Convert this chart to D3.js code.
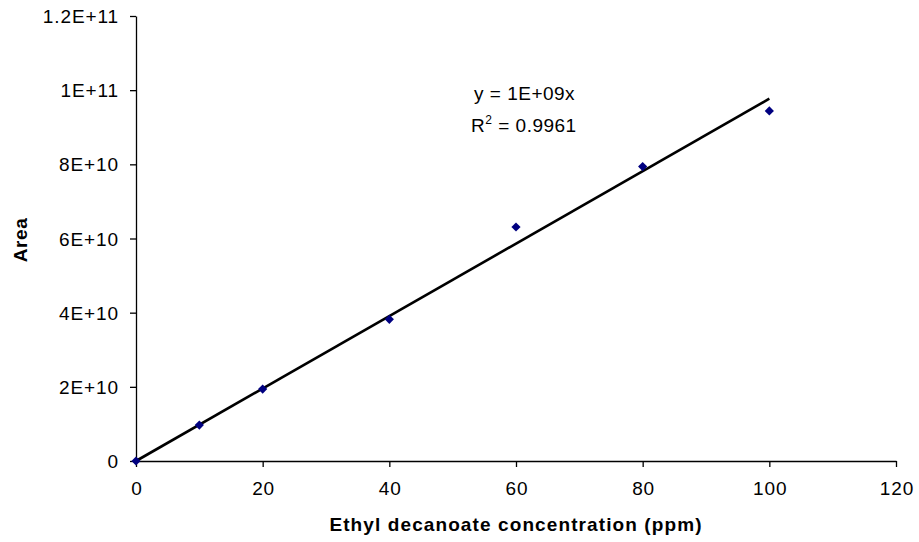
<!DOCTYPE html>
<html>
<head>
<meta charset="utf-8">
<script src="https://cdn.jsdelivr.net/npm/d3@7"></script>
<style>
  html, body { margin: 0; padding: 0; background: #fff; }
  svg { display: block; font-family: "Liberation Sans", Arial, sans-serif; }
</style>
</head>
<body>
<svg id="chart" width="919" height="542"></svg>
<script>
// ---- Data ----
const concentrations = [0, 10, 20, 40, 60, 80, 100];
const areas = [0, 9.7e9, 19.4e9, 38.2e9, 63.1e9, 79.4e9, 94.4e9];
const xTicks = [0, 20, 40, 60, 80, 100, 120];
const yTicks = [0, 2e10, 4e10, 6e10, 8e10, 1e11, 1.2e11];
const yTickLabels = ["0", "2E+10", "4E+10", "6E+10", "8E+10", "1E+11", "1.2E+11"];
const equationLines = ["y = 1E+09x", "R", "2", " = 0.9961"];
const xTitle = "Ethyl decanoate concentration (ppm)";
const yTitle = "Area";

(function () {
// ---- Layout ----
const svg = d3.select("#chart");
const pl = 136, pr = 896, pt = 16, pb = 461;
const x = d3.scaleLinear().domain([0, 120]).range([pl, pr]);
const y = d3.scaleLinear().domain([0, 1.2e11]).range([pb, pt]);

// Linear trend through origin (least squares)
const slope = d3.sum(concentrations, (c, i) => c * areas[i]) / d3.sum(concentrations, c => c * c);

// Axes
const xAxis = d3.axisBottom(x).tickValues(xTicks).tickSize(6).tickPadding(15).tickSizeOuter(0);
const yAxis = d3.axisLeft(y).tickValues(yTicks).tickSize(6).tickPadding(11).tickSizeOuter(0)
  .tickFormat((d, i) => yTickLabels[i]);

const gx = svg.append("g").attr("transform", `translate(0,${pb})`).call(xAxis);
const gy = svg.append("g").attr("transform", `translate(${pl},0)`).call(yAxis);
[gx, gy].forEach(g => {
  g.selectAll("path, line").attr("stroke", "#000").attr("stroke-width", 1.3);
  g.selectAll("text").attr("fill", "#000").style("font-size", "19px")
   .style("letter-spacing", "0.9px")
   .style("font-family", '"Liberation Sans", Arial, sans-serif');
});
gy.selectAll("text").attr("dy", "0.35em");
gx.selectAll("text").attr("dx", "0.45px");

// Trendline
svg.append("line")
  .attr("x1", x(0)).attr("y1", y(0))
  .attr("x2", x(100)).attr("y2", y(slope * 100))
  .attr("stroke", "#000").attr("stroke-width", 2.6);

// Markers
svg.append("g").selectAll("path")
  .data(concentrations)
  .join("path")
  .attr("transform", (c, i) => `translate(${x(c)},${y(areas[i])})`)
  .attr("d", "M0,-4.6L4.6,0L0,4.6L-4.6,0Z")
  .attr("fill", "#000080");

// Equation
const eq = svg.append("g").style("font-size", "19px").style("letter-spacing", "0.5px").attr("fill", "#000");
eq.append("text").attr("x", 474).attr("y", 100).text(equationLines[0]);
const t2 = eq.append("text").attr("x", 471).attr("y", 132);
t2.append("tspan").text(equationLines[1]);
t2.append("tspan").attr("dy", -8).style("font-size", "12px").text(equationLines[2]);
t2.append("tspan").attr("dy", 8).text(equationLines[3]);

// Axis titles
svg.append("text")
  .attr("x", (pl + pr) / 2).attr("y", 531)
  .attr("text-anchor", "middle")
  .style("font-size", "19px").style("font-weight", "bold")
  .style("letter-spacing", "1.1px")
  .text(xTitle);

svg.append("text")
  .attr("transform", `translate(27,240) rotate(-90)`)
  .attr("text-anchor", "middle")
  .style("font-size", "19px").style("font-weight", "bold")
  .style("letter-spacing", "0.6px")
  .text(yTitle);
})();
</script>
</body>
</html>
